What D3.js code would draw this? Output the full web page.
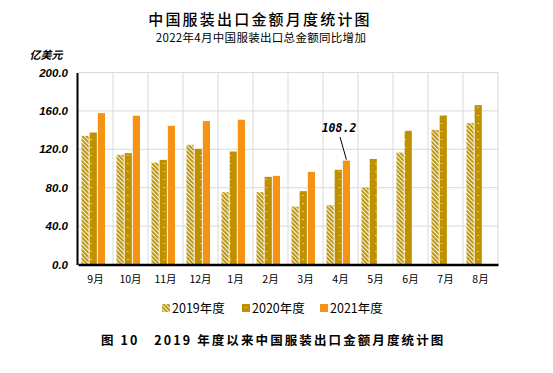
<!DOCTYPE html>
<html>
<head>
<meta charset="utf-8">
<script src="https://cdn.jsdelivr.net/npm/d3@7"></script>
<style>
  body { margin: 0; background: #fff; }
  text { font-family: "Noto Sans CJK SC", sans-serif; }
</style>
</head>
<body>
<script>
// data (亿美元)
var months = ["9月", "10月", "11月", "12月", "1月", "2月", "3月", "4月", "5月", "6月", "7月", "8月"];
var seriesNames = ["2019年度", "2020年度", "2021年度"];
var v2019 = [134, 114.2, 106.2, 124.7, 75.3, 75.3, 60.3, 61.8, 80.1, 116.6, 140.3, 147.3];
var v2020 = [137.5, 116, 109, 120.5, 117.7, 91.3, 76.4, 98.6, 110, 139.3, 155.3, 166];
var v2021 = [157.7, 155, 144.5, 149.4, 150.8, 92.3, 96.5, 108.2, null, null, null, null];
var yTicks = [0, 40, 80, 120, 160, 200];

var width = 553, height = 373;
var svg = d3.select("body").append("svg")
    .attr("width", width)
    .attr("height", height);

var defs = svg.append("defs");

// 2019: diagonal hatch
var hatch = defs.append("pattern").attr("id", "hatch")
    .attr("patternUnits", "userSpaceOnUse")
    .attr("width", 3).attr("height", 3)
    .attr("patternTransform", "rotate(-45)");
hatch.append("rect").attr("width", 3).attr("height", 3).attr("fill", "#fbf3d6");
hatch.append("rect").attr("width", 1.8).attr("height", 3).attr("fill", "#b58f08");

// 2020: gold with white dots
var dots = defs.append("pattern").attr("id", "dots")
    .attr("patternUnits", "userSpaceOnUse")
    .attr("width", 7.3).attr("height", 8);
dots.append("rect").attr("width", 7.3).attr("height", 8).attr("fill", "#bf9000");
dots.append("rect").attr("x", 3.2).attr("y", 3).attr("width", 1).attr("height", 1).attr("fill", "#fff");

var fills = ["url(#hatch)", "url(#dots)", "#f59315"];

var x = d3.scaleBand().domain(months).range([78, 498]);
var y = d3.scaleLinear().domain([0, 200]).range([264.5, 72.5]);

var sub = d3.scaleBand().domain(seriesNames).range([3.5, 27]).paddingInner(0.12);

// grid
var grid = svg.append("g");
grid.selectAll("line.h")
    .data(yTicks.slice(1))
    .enter().append("line")
    .attr("x1", 78).attr("x2", 498)
    .attr("y1", function(d) { return y(d); })
    .attr("y2", function(d) { return y(d); })
    .attr("stroke", "#d9d9d9");
grid.selectAll("line.v")
    .data(months)
    .enter().append("line")
    .attr("x1", function(d) { return x(d) + x.bandwidth(); })
    .attr("x2", function(d) { return x(d) + x.bandwidth(); })
    .attr("y1", y(200)).attr("y2", y(0))
    .attr("stroke", "#d9d9d9");

// bars
var table = [v2019, v2020, v2021];
table.forEach(function(vals, i) {
  var rows = months.map(function(m, j) { return { m: m, v: vals[j] }; })
      .filter(function(d) { return d.v != null; });
  svg.append("g").selectAll("rect")
      .data(rows)
      .enter().append("rect")
      .attr("x", function(d) { return x(d.m) + sub(seriesNames[i]); })
      .attr("width", sub.bandwidth())
      .attr("y", function(d) { return y(d.v); })
      .attr("height", function(d) { return y(0) - y(d.v); })
      .attr("fill", fills[i]);
});

// axes
var yAxis = svg.append("g")
    .attr("transform", "translate(77,0)")
    .call(d3.axisLeft(y).tickValues(yTicks).tickSize(0).tickPadding(9)
      .tickFormat(function(d) { return d.toFixed(1); }));
yAxis.select(".domain").attr("stroke", "#000").attr("stroke-width", 2);
yAxis.selectAll("text")
    .style("font-family", "'Liberation Sans', Arial, sans-serif")
    .style("font-size", "11.5px").style("font-weight", "bold").style("font-style", "italic")
    .attr("fill", "#000");

var xAxis = svg.append("g")
    .attr("transform", "translate(0," + y(0) + ")")
    .call(d3.axisBottom(x).tickSize(0).tickPadding(11));
xAxis.select(".domain").attr("stroke", "#000").attr("stroke-width", 2.5);
xAxis.selectAll("text")
    .style("font-size", "10.5px")
    .attr("fill", "#000");

// unit label
svg.append("text").attr("x", 46).attr("y", 59)
    .attr("text-anchor", "middle")
    .style("font-size", "11px").style("font-weight", "bold").style("font-style", "italic")
    .text("亿美元");

// titles
svg.append("text").attr("x", 260).attr("y", 25)
    .attr("text-anchor", "middle")
    .style("font-size", "15px").style("font-weight", "500").style("letter-spacing", "2.2px")
    .text("中国服装出口金额月度统计图");
svg.append("text").attr("x", 261).attr("y", 42)
    .attr("text-anchor", "middle")
    .style("font-size", "11.5px").style("letter-spacing", "0.3px")
    .text("2022年4月中国服装出口总金额同比增加");

// annotation for 4月 2021
var ax = x("4月") + sub("2021年度") + sub.bandwidth() / 2;
svg.append("line")
    .attr("x1", 340).attr("y1", 137)
    .attr("x2", ax).attr("y2", y(108.2) - 1)
    .attr("stroke", "#000").attr("stroke-width", 1);
svg.append("text").attr("x", 339).attr("y", 132)
    .attr("text-anchor", "middle")
    .style("font-family", "'DejaVu Sans Mono', monospace")
    .style("font-size", "11.5px").style("font-weight", "bold").style("font-style", "italic")
    .text("108.2");

// legend
var legX = [162, 242, 320];
var leg = svg.append("g").selectAll("g")
    .data(seriesNames)
    .enter().append("g")
    .attr("transform", function(d, i) { return "translate(" + legX[i] + ",304)"; });
leg.append("rect").attr("width", 8).attr("height", 8)
    .attr("fill", function(d, i) { return fills[i]; });
leg.append("text").attr("x", 10).attr("y", 9)
    .style("font-size", "12.5px")
    .text(function(d) { return d; });

// caption
svg.append("text").attr("x", 101).attr("y", 345)
    .style("font-size", "12.5px").style("font-weight", "bold").style("letter-spacing", "2.1px")
    .attr("xml:space", "preserve")
    .text("图 10   2019 年度以来中国服装出口金额月度统计图");
</script>
</body>
</html>
